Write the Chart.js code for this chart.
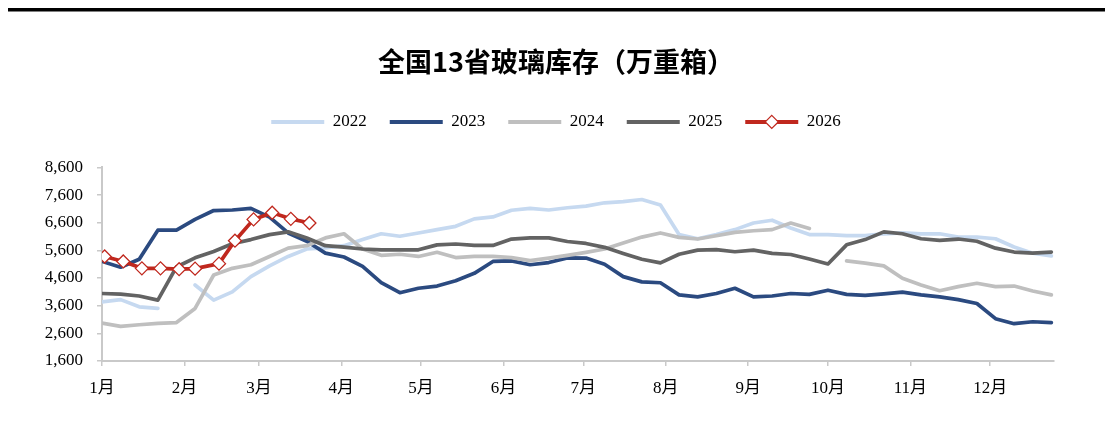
<!DOCTYPE html>
<html>
<head>
<meta charset="utf-8">
<title>全国13省玻璃库存（万重箱）</title>
<script src="https://cdn.jsdelivr.net/npm/chart.js@4.4.1/dist/chart.umd.min.js"></script>
<style>
  html, body { margin: 0; padding: 0; background: #fff; }
  #wrap { width: 1112px; height: 423px; }
</style>
</head>
<body>
<div id="wrap"><canvas id="chart" width="1112" height="423"></canvas></div>
<script>
// ==================== DADOS ====================
// eixo x: dia do ano (0 = 1 jan), ticks nos inicios de mes
const monthLabels = ['1月', '2月', '3月', '4月', '5月', '6月', '7月', '8月', '9月', '10月', '11月', '12月'];
const monthStartDays = [0, 31, 59, 90, 120, 151, 181, 212, 243, 273, 304, 334];
const yTicks = [1600, 2600, 3600, 4600, 5600, 6600, 7600, 8600];

const seriesNames = ['2022', '2023', '2024', '2025', '2026'];
const seriesColors = ['#c6d9f0', '#2b4a80', '#bfbfbf', '#636363', '#c0281e'];

// dados semanais (52 semanas), null = sem dado
const inv2022 = [3740, 3820, 3560, 3500, null, 4350, 3800, 4100, 4650, 5040, 5380, 5650, 5690,
  5770, 5990, 6200, 6110, 6230, 6350, 6470, 6740, 6810, 7050, 7120, 7060, 7140,
  7200, 7320, 7360, 7440, 7240, 6170, 6020, 6170, 6350, 6590, 6690, 6410, 6170,
  6170, 6130, 6130, 6200, 6230, 6200, 6200, 6080, 6080, 6020, 5720, 5500, 5400];
const inv2023 = [5200, 4990, 5280, 6330, 6330, 6720, 7040, 7060, 7120, 6800, 6230, 5930, 5500,
  5360, 5020, 4430, 4070, 4230, 4310, 4500, 4770, 5200, 5220, 5080, 5160, 5330,
  5320, 5100, 4650, 4460, 4430, 3990, 3920, 4040, 4230, 3920, 3950, 4040, 4010,
  4160, 4010, 3970, 4030, 4090, 3990, 3920, 3820, 3680, 3130, 2950, 3020, 2990];
const inv2024 = [2970, 2850, 2910, 2960, 2990, 3500, 4710, 4950, 5080, 5380, 5680, 5770, 6050,
  6200, 5650, 5420, 5460, 5380, 5530, 5340, 5380, 5380, 5340, 5230, 5320, 5420,
  5530, 5650, 5870, 6080, 6230, 6070, 6010, 6130, 6250, 6310, 6350, 6590, 6390,
  null, 5220, 5140, 5040, 4590, 4350, 4140, 4290, 4410, 4290, 4310, 4130, 3990];
const inv2025 = [4040, 4020, 3950, 3800, 5000, 5330, 5560, 5840, 5990, 6170, 6270, 6050, 5770,
  5720, 5650, 5620, 5620, 5620, 5800, 5830, 5780, 5780, 6010, 6050, 6050, 5920,
  5850, 5710, 5490, 5280, 5150, 5460, 5610, 5630, 5550, 5610, 5490, 5450, 5290,
  5110, 5800, 5990, 6270, 6200, 6020, 5960, 6010, 5930, 5680, 5540, 5500, 5540];
// 2026 tem datas proprias (feriado de primavera desloca as semanas)
const days2026 = [1, 8, 15, 22, 29, 35, 44, 50, 57, 64, 71, 78];
const inv2026 = [5380, 5200, 4950, 4950, 4920, 4940, 5120, 5950, 6720, 6960, 6740, 6590];

// ==================== MONTAR SERIES ====================
function semanal(valores) {
  return valores.map((v, i) => ({ x: i * 7, y: v }));
}

const pontos = [
  semanal(inv2022),
  semanal(inv2023),
  semanal(inv2024),
  semanal(inv2025),
  days2026.map((d, i) => ({ x: d, y: inv2026[i] }))
];

const datasets = seriesNames.map((nome, i) => ({
  label: nome,
  data: pontos[i],
  yAxisID: 'y',
  borderColor: seriesColors[i],
  backgroundColor: seriesColors[i],
  borderWidth: 3.7,
  tension: 0,
  spanGaps: false,
  borderJoinStyle: 'round',
  borderCapStyle: 'round',
  pointRadius: 0,
  order: seriesNames.length - i // ultimas series por cima, como no Excel
}));

// 2026 com losangos brancos
Object.assign(datasets[4], {
  pointStyle: 'rectRot',
  pointRadius: 6.5,
  pointBackgroundColor: '#ffffff',
  pointBorderColor: seriesColors[4],
  pointBorderWidth: 1.3
});

// ==================== PLUGINS ====================
const fonteSerif = "'Times New Roman', 'Liberation Serif', 'Noto Sans CJK SC', serif";

const linhaTopo = {
  id: 'linhaTopo',
  beforeDraw(chart) {
    const ctx = chart.ctx;
    ctx.save();
    ctx.fillStyle = '#000';
    ctx.fillRect(8, 8, chart.width - 15, 3.5);
    ctx.restore();
  }
};

// espaco extra abaixo da legenda
const espacoLegenda = {
  id: 'espacoLegenda',
  beforeInit(chart) {
    const fitOriginal = chart.legend.fit;
    chart.legend.fit = function () {
      fitOriginal.bind(chart.legend)();
      this.height += 27;
    };
  }
};

// losango no simbolo da legenda de 2026
const losangoLegenda = {
  id: 'losangoLegenda',
  afterDraw(chart) {
    const legend = chart.legend;
    if (!legend || !legend.legendHitBoxes) return;
    const idx = legend.legendItems.findIndex(it => it.datasetIndex === 4);
    const hb = legend.legendHitBoxes[idx];
    if (!hb) return;
    const opts = legend.options.labels;
    const cx = hb.left + opts.boxWidth / 2;
    const cy = hb.top + opts.font.size / 2;
    const r = 6.5;
    const ctx = chart.ctx;
    ctx.save();
    ctx.beginPath();
    ctx.moveTo(cx, cy - r);
    ctx.lineTo(cx + r, cy);
    ctx.lineTo(cx, cy + r);
    ctx.lineTo(cx - r, cy);
    ctx.closePath();
    ctx.fillStyle = '#fff';
    ctx.fill();
    ctx.lineWidth = 1.3;
    ctx.strokeStyle = seriesColors[4];
    ctx.stroke();
    ctx.restore();
  }
};

// ==================== GRAFICO ====================
new Chart(document.getElementById('chart'), {
  type: 'line',
  data: { datasets },
  options: {
    responsive: false,
    animation: false,
    devicePixelRatio: 1,
    events: [],
    layout: { padding: { top: 0, left: 0, right: 0, bottom: 22 } },
    plugins: {
      title: {
        display: true,
        text: '全国13省玻璃库存（万重箱）',
        color: '#000',
        font: { family: "'Noto Sans CJK SC', sans-serif", size: 27, weight: 'bold' },
        padding: { top: 46, bottom: 12 }
      },
      legend: {
        display: true,
        position: 'top',
        labels: {
          color: '#000',
          font: { family: fonteSerif, size: 17 },
          boxWidth: 53,
          boxHeight: 4,
          padding: 23,
          sort: (a, b) => a.datasetIndex - b.datasetIndex,
          generateLabels: (chart) =>
            Chart.defaults.plugins.legend.labels.generateLabels(chart).map(l => ({ ...l, lineWidth: 0 }))
        }
      },
      tooltip: { enabled: false }
    },
    scales: {
      x: {
        type: 'linear',
        min: 0,
        max: 358,
        afterBuildTicks: (axis) => {
          axis.ticks = monthStartDays.map(d => ({ value: d }));
        },
        afterFit: (scale) => { scale.height = 40; },
        ticks: {
          autoSkip: false,
          maxRotation: 0,
          padding: 12,
          color: '#000',
          font: { family: fonteSerif, size: 17 },
          callback: (value, index) => monthLabels[index]
        },
        grid: { drawOnChartArea: false, drawTicks: true, tickLength: 5, color: '#c9c9c9', lineWidth: 1.5 },
        border: { color: '#c9c9c9', width: 2 }
      },
      y: {
        type: 'linear',
        position: 'left',
        min: yTicks[0],
        max: yTicks[yTicks.length - 1],
        afterBuildTicks: (axis) => {
          axis.ticks = yTicks.map(v => ({ value: v }));
        },
        afterFit: (scale) => { scale.width = 102; },
        ticks: {
          padding: 14,
          color: '#000',
          font: { family: fonteSerif, size: 17 },
          callback: (value) => value.toLocaleString('en-US')
        },
        grid: { drawOnChartArea: false, drawTicks: true, tickLength: 5, color: '#c9c9c9', lineWidth: 1.5 },
        border: { color: '#c9c9c9', width: 2 }
      },
      // eixo vazio a direita so para reservar a margem (titulo e legenda seguem centrados)
      margemDireita: {
        type: 'linear',
        position: 'right',
        afterFit: (scale) => { scale.width = 58; },
        ticks: { display: false },
        grid: { display: false },
        border: { display: false }
      }
    }
  },
  plugins: [linhaTopo, espacoLegenda, losangoLegenda]
});
</script>
</body>
</html>
